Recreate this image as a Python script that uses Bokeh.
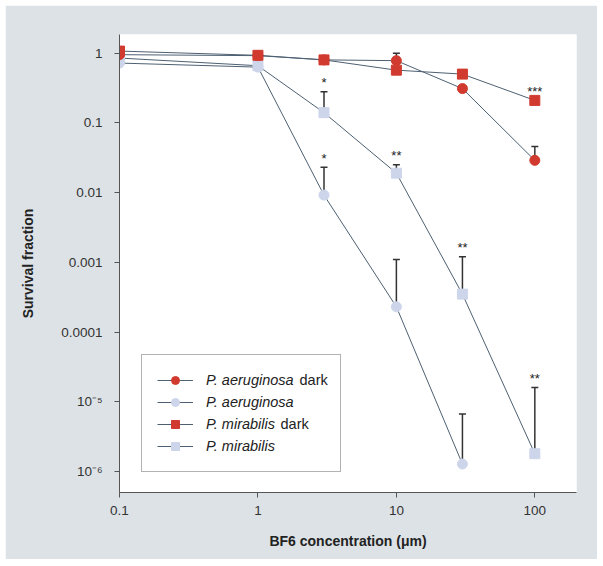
import math
from bokeh.plotting import figure
from bokeh.models import (FixedTicker, Whisker, TeeHead, ColumnDataSource, Legend,
                          LegendItem, Label, Range1d)
from bokeh.core.properties import value
from bokeh.embed import file_html
from bokeh.resources import INLINE

NaN = float("nan")

# ---- data ----
conc = [0.1, 1, 3, 10, 30, 100]

pa_dark = [0.95, 0.92, 0.80, 0.78, 0.31, 0.029]
pa_dark_err = [NaN, NaN, NaN, 1.0, NaN, 0.046]
pa_dark_stars = ["", "", "", "", "", ""]

pa_light = [0.72, 0.63, 0.0092, 0.00023, 1.28e-6, NaN]
pa_light_err = [NaN, NaN, 0.023, 1.1e-3, 6.7e-6, NaN]
pa_light_stars = ["", "", "*", "", "", ""]

pm_dark = [1.07, 0.93, 0.80, 0.57, 0.50, 0.21]
pm_dark_err = [NaN, NaN, NaN, NaN, NaN, NaN]
pm_dark_stars = ["", "", "", "", "", "***"]

pm_light = [0.85, 0.66, 0.14, 0.019, 3.5e-4, 1.8e-6]
pm_light_err = [NaN, NaN, 0.28, 0.025, 1.2e-3, 1.6e-5]
pm_light_stars = ["", "", "*", "**", "**", "**"]

x_ticks = [0.1, 1, 10, 100]
x_tick_labels = ["0.1", "1", "10", "100"]
y_ticks = [1e-6, 1e-5, 1e-4, 1e-3, 1e-2, 1e-1, 1]
y_tick_labels = ["10\u207b\u2076", "10\u207b\u2075", "0.0001", "0.001", "0.01", "0.1", "1"]

# ---- style ----
FONT = "Liberation Sans"
BG = "#dde2e6"
LINE = "#4d6072"
RED = "#d13b2f"
LIGHT = "#cdd5ea"
ERR = "#333333"

p = figure(x_axis_type="log", y_axis_type="log",
           x_range=Range1d(0.1, 200), y_range=Range1d(5e-7, 1.85),
           frame_width=457, frame_height=458,
           min_border_left=114, min_border_right=21, min_border_top=29, min_border_bottom=67,
           output_backend="svg", toolbar_location=None)
p.margin = (5, 0, 0, 5)
p.background_fill_color = "white"
p.border_fill_color = BG
p.outline_line_color = None
p.xgrid.visible = False
p.ygrid.visible = False

for ax in (p.xaxis[0], p.yaxis[0]):
    ax.axis_line_color = "#555555"
    ax.major_tick_line_color = "#555555"
    ax.minor_tick_line_color = None
    ax.major_tick_in = 0
    ax.major_tick_out = 5
    ax.major_label_text_font = FONT
    ax.major_label_text_font_size = "13.5px"
    ax.major_label_text_color = "#333333"
    ax.axis_label_text_font = FONT
    ax.axis_label_text_font_size = "14px"
    ax.axis_label_text_font_style = "bold"
    ax.axis_label_text_color = "#222222"

p.xaxis.ticker = FixedTicker(ticks=x_ticks)
p.xaxis.major_label_overrides = dict(zip(x_ticks, x_tick_labels))
p.xaxis.major_label_standoff = 8
p.xaxis.axis_label = "BF6 concentration (\u03bcm)"
p.xaxis.axis_label_standoff = 15

p.yaxis.ticker = FixedTicker(ticks=y_ticks)
p.yaxis.major_label_overrides = dict(zip(y_ticks, y_tick_labels))
p.yaxis.major_label_standoff = 12
p.yaxis.axis_label = "Survival fraction"
p.yaxis.axis_label_standoff = 22

series = [
    ("P. aeruginosa", True, "circle", RED, pa_dark, pa_dark_err, pa_dark_stars),
    ("P. aeruginosa", False, "circle", LIGHT, pa_light, pa_light_err, pa_light_stars),
    ("P. mirabilis", True, "square", RED, pm_dark, pm_dark_err, pm_dark_stars),
    ("P. mirabilis", False, "square", LIGHT, pm_light, pm_light_err, pm_light_stars),
]
draw_order = [3, 1, 0, 2]

renderers = {}
for i in draw_order:
    name, dark, marker, color, vals, errs, stars = series[i]
    xs = [c for c, v in zip(conc, vals) if not math.isnan(v)]
    ys = [v for v in vals if not math.isnan(v)]
    src = ColumnDataSource(dict(x=xs, y=ys))
    lr = p.line("x", "y", source=src, line_color=LINE, line_width=1)
    sr = p.scatter("x", "y", source=src, marker=marker, size=10,
                   fill_color=color, line_color=color)
    renderers[i] = (lr, sr)

    ex = [c for c, v, e in zip(conc, vals, errs) if not math.isnan(e)]
    elo = [v for v, e in zip(vals, errs) if not math.isnan(e)]
    ehi = [e for e in errs if not math.isnan(e)]
    if ex:
        wsrc = ColumnDataSource(dict(x=ex, lo=elo, hi=ehi))
        w = Whisker(base="x", lower="lo", upper="hi", source=wsrc, dimension="height",
                    line_color=ERR, line_width=1.5, lower_head=None,
                    upper_head=TeeHead(size=7, line_color=ERR, line_width=1.5),
                    level="underlay")
        p.add_layout(w)

    sx = [c for c, s in zip(conc, stars) if s]
    sy = [max(v, e if not math.isnan(e) else v) for v, e, s in zip(vals, errs, stars) if s]
    st = [s for s in stars if s]
    if sx:
        p.text(x=sx, y=sy, text=st, text_align="center", text_baseline="middle",
               y_offset=-9, text_font=value(FONT), text_font_size="13px",
               text_color="#222222")

items = []
for i in range(4):
    name = series[i][0]
    items.append(LegendItem(label=name, renderers=list(renderers[i])))

legend = Legend(items=items, location=(22, 20),
                label_text_font=FONT, label_text_font_size="14.5px",
                label_text_font_style="italic", label_text_color="#222222",
                border_line_color="#666666", border_line_width=1,
                background_fill_color="white", background_fill_alpha=0,
                padding=15, spacing=2, glyph_width=36, glyph_height=20,
                label_height=20, label_width=119, label_standoff=13, margin=0)
p.add_layout(legend)

dark_pos = [(180, 113), (161, 69)]
for (lx, ly) in dark_pos:
    lab = Label(x=lx, y=ly, x_units="screen", y_units="screen", text="dark",
                text_baseline="middle", text_font=FONT, text_font_size="14.5px",
                text_color="#222222")
    p.add_layout(lab)

open("out.html", "w").write(file_html(p, INLINE))
